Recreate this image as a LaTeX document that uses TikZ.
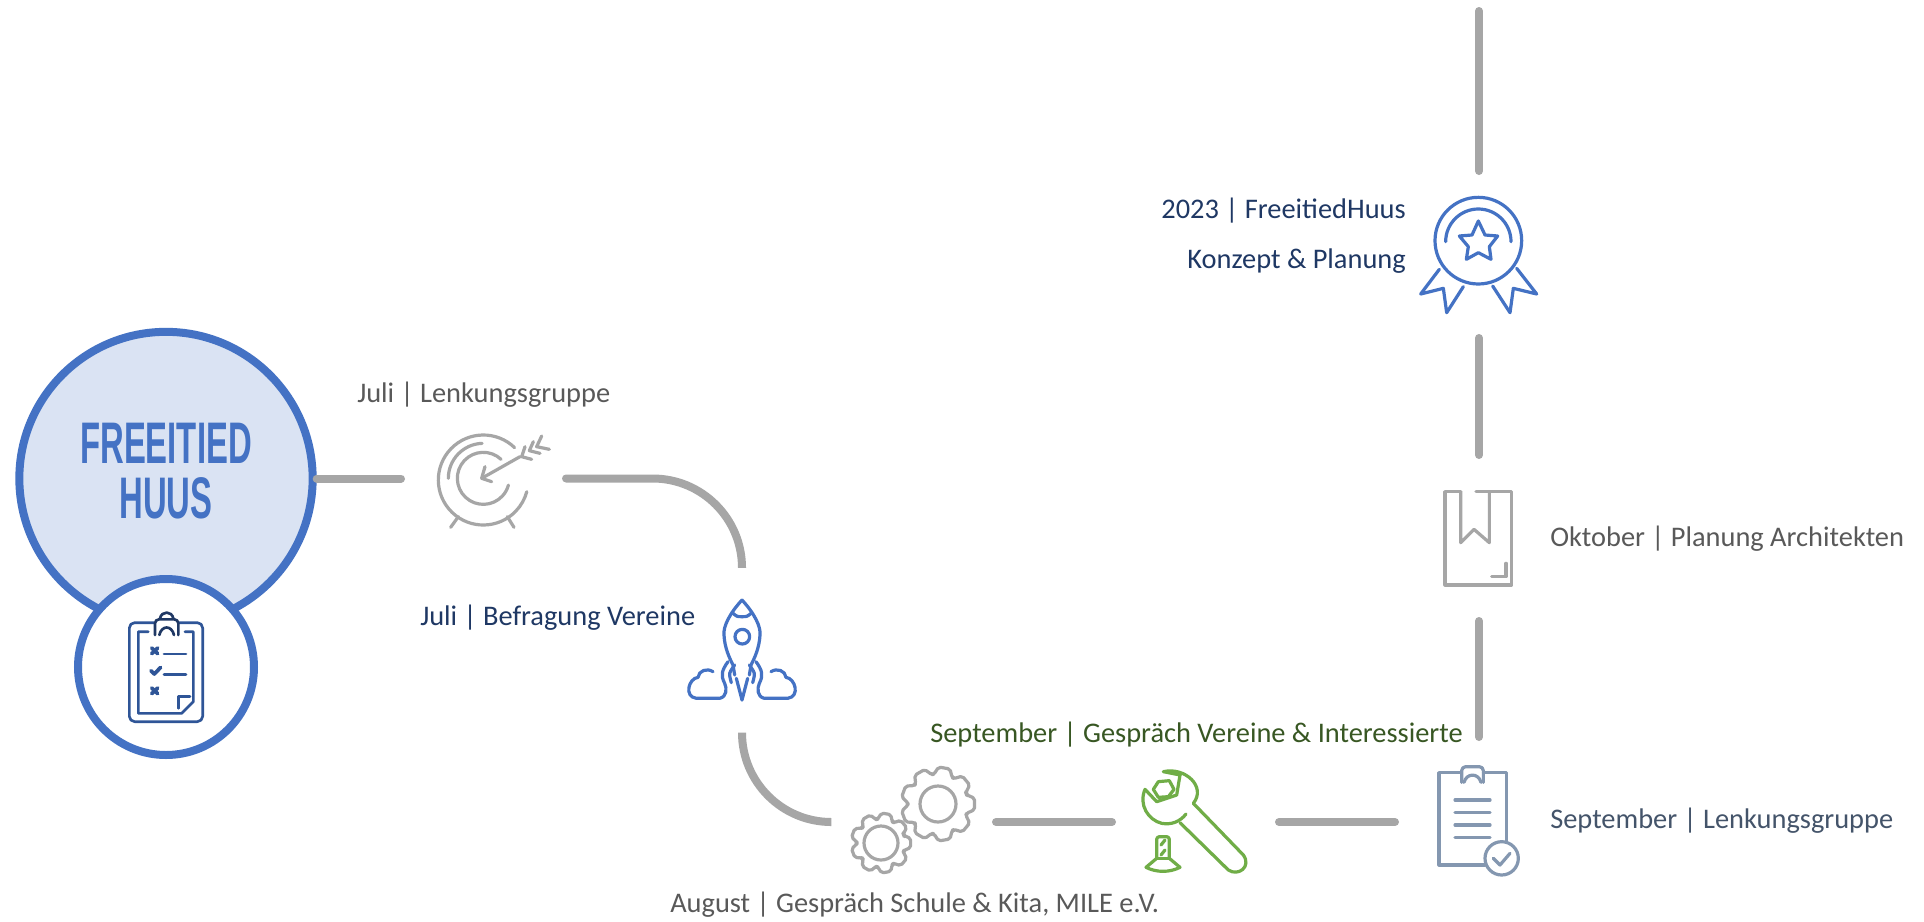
\documentclass[tikz,border=0pt]{standalone}
\usepackage{fontspec}
\setmainfont{Carlito}
\newfontfamily\hubfont[FakeStretch=0.56]{Liberation Sans Bold}
\definecolor{hubblue}{HTML}{4472C4}
\definecolor{hubfill}{HTML}{DAE3F3}
\definecolor{wiregray}{HTML}{A6A6A6}
\definecolor{textgray}{HTML}{595959}
\definecolor{navy}{HTML}{1F3864}
\definecolor{darkgreen}{HTML}{385723}
\definecolor{iconblue}{HTML}{2F5597}
\definecolor{slate}{HTML}{44546A}
\definecolor{slateicon}{HTML}{8497B0}
\definecolor{wrenchgreen}{HTML}{70AD47}
\tikzset{
	wire/.style={draw=wiregray, line width=6pt, line cap=round},
	icon/.style={line width=2.4pt, line cap=round, line join=round},
	caption/.style={anchor=base west, inner sep=0pt, font=\fontsize{21.3}{24}\selectfont},
	captionl/.style={anchor=base east, inner sep=0pt, font=\fontsize{21.3}{24}\selectfont},
}
\newcommand{\gearicon}[5]{
	\begin{scope}[shift={(#1,#2)}]
		\draw [icon, draw=wiregray, rounded corners=1.5pt] (-20:#4)
			\foreach \a in {0,40,...,320} { -- (\a-18:#4) -- (\a-9:#5) -- (\a+9:#5) -- (\a+18:#4) } -- cycle;
		\draw [icon, draw=wiregray] (0,0) circle (#3);
	\end{scope}
}
\begin{document}
\begin{tikzpicture}[x=0.75pt, y=-0.75pt]
	\useasboundingbox [fill=white] (0,0) rectangle (1924,921);
	\coordinate (topS) at (1479,171);
	\coordinate (topN) at (1479,11);
	\coordinate (medalS) at (1479,338);
	\coordinate (bookN) at (1479,455);
	\coordinate (bookS) at (1479,621);
	\coordinate (listN) at (1479,737);
	\coordinate (targetW) at (401,478.5);
	\coordinate (targetE) at (566,478.5);
	\coordinate (rocketN) at (742,567);
	\coordinate (rocketS) at (742,735);
	\coordinate (gearW) at (830,822);
	\coordinate (gearE) at (996,822);
	\coordinate (wrenchW) at (1112,822);
	\coordinate (wrenchE) at (1279,822);
	\coordinate (listW) at (1395,822);
	\node (hub) [circle, draw=hubblue, fill=hubfill, line width=6pt, minimum size=220pt, inner sep=0pt] at (166,478.5) {};
	\node (hublabel) [align=center, text=hubblue, font=\hubfont\fontsize{44}{41.5}\selectfont] at (166,471) {FREEITIED\\HUUS};
	\node (badge) [circle, draw=hubblue, fill=white, line width=6pt, minimum size=132pt, inner sep=0pt] at (166,667) {};
	\draw [wire] (hub.east) -- (targetW);
	\draw [wire, rounded corners=67pt] (targetE) -| (rocketN);
	\draw [wire, rounded corners=67pt] (rocketS) |- (gearW);
	\draw [wire] (gearE) -- (wrenchW);
	\draw [wire] (wrenchE) -- (listW);
	\draw [wire] (listN) -- (bookS);
	\draw [wire] (bookN) -- (medalS);
	\draw [wire] (topS) -- (topN);
	\node (lenkung) [caption, text=textgray] at (357,402) {Juli | Lenkungsgruppe};
	\node (befragung) [caption, text=navy] at (420,625) {Juli | Befragung Vereine};
	\node (gespraech) [caption, text=darkgreen] at (930,742) {September | Gespräch Vereine \& Interessierte};
	\node (august) [caption, text=textgray] at (670,912) {August | Gespräch Schule \& Kita, MILE e.V.};
	\node (septlenk) [caption, text=slate] at (1550,828) {September | Lenkungsgruppe};
	\node (oktober) [caption, text=textgray] at (1550,546) {Oktober | Planung Architekten};
	\node (jahr) [captionl, text=navy] at (1406,218) {2023 | FreeitiedHuus};
	\node (konzept) [captionl, text=navy] at (1406,268) {Konzept \& Planung};
	\begin{scope}[shift={(0,320)}, x=0.25pt, y=-0.25pt, icon, draw=iconblue, line width=2pt]
		\draw [rounded corners=4pt] (462,908) -- (388,908) -- (388,1205) -- (608,1205) -- (608,908) -- (535,908);
		\draw (445,935) -- (415,935) -- (415,1180) -- (545,1180) -- (580,1145) -- (580,935) -- (555,935);
		\draw (535,1165) -- (535,1130) -- (570,1130);
		\draw [draw=navy, rounded corners=3pt] (465,945) -- (465,898) -- (535,898) -- (535,945);
		\draw [draw=navy] (480,895) .. controls (485,872) and (515,872) .. (520,895);
		\draw [draw=navy] (478,945) .. controls (485,915) and (515,915) .. (522,945);
		\draw [line width=2.8pt] (455,984) -- (473,1001) (473,984) -- (455,1001);
		\draw [line width=2.8pt] (455,1104) -- (473,1121) (473,1104) -- (455,1121);
		\draw [line width=2.8pt] (453,1052) -- (463,1062) -- (482,1042);
		\draw (492,1002) -- (558,1002);
		\draw (492,1063) -- (558,1063);
	\end{scope}
	\begin{scope}[shift={(430,420)}, x=0.25pt, y=-0.25pt, icon, draw=wiregray]
		\draw (160,180) ++(-46:135) arc (-46:-345:135);
		\draw (55,175) arc (-180:-92:105);
		\draw (160,175) ++(-47:78) arc (-47:-345:78);
		\draw (85,290) -- (62,322);
		\draw (232,290) -- (252,322);
		\draw (155,175) -- (270,110);
		\draw (165,140) -- (155,175) -- (185,185);
		\draw (285,80) -- (275,110) -- (305,118);
		\draw (310,65) -- (298,92) -- (330,100);
		\draw (335,48) -- (320,80) -- (358,88);
	\end{scope}
	\begin{scope}[shift={(680,590)}, x=0.25pt, y=-0.25pt, icon, draw=hubblue]
		\draw (187,140) circle (22);
	\end{scope}
	\foreach \s in {1,-1} {
		\begin{scope}[shift={(742,600)}, x=\s*0.25pt, y=-0.25pt, icon, draw=hubblue]
			\draw (0,0) .. controls (-37,40) and (-57,80) .. (-54,105) .. controls (-52,145) and (-37,175) .. (-27,195) -- (-22,225);
			\draw (-27,40) .. controls (-15,50) .. (0,50);
			\draw (-87,215) .. controls (-105,203) and (-130,212) .. (-132,232) .. controls (-160,235) and (-175,290) .. (-137,295) -- (-67,295) .. controls (-45,290) and (-45,265) .. (-52,250) .. controls (-65,225) and (-60,210) .. (-42,185);
			\draw plot [smooth] coordinates {(-22,195) (-37,220) (-32,248)};
			\draw (-17,235) -- (0,300);
		\end{scope}
	}
	\gearicon{938}{804}{18}{30}{37}
	\gearicon{881}{843}{17}{24}{30}
	\begin{scope}[shift={(1130,760)}, x=0.25pt, y=-0.25pt, icon, draw=wrenchgreen]
		\draw (150,45) -- (100,35) .. controls (165,20) and (230,80) .. (190,130) -- (340,285) .. controls (365,320) and (325,350) .. (295,330) -- (150,188);
		\draw (168,162) .. controls (150,185) and (125,195) .. (95,190) .. controls (55,180) and (25,135) .. (45,88) -- (80,125) -- (140,105) -- (150,45);
		\draw (85,65) -- (118,62) -- (132,88) -- (115,110) -- (85,112) -- (70,88) -- cycle;
		\draw [rounded corners=2pt] (80,295) -- (80,230) -- (118,230) -- (118,295);
		\draw (93,255) -- (105,240) (93,285) -- (105,270);
		\draw (80,295) -- (48,322) .. controls (80,338) and (118,338) .. (150,322) -- (118,295);
		\draw (80,295) -- (118,295);
	\end{scope}
	\begin{scope}[shift={(1400,750)}, x=0.25pt, y=-0.25pt, icon, draw=slateicon]
		\draw (183,68) -- (117,68) -- (117,345) -- (255,345);
		\draw (250,68) -- (320,68) -- (320,275);
		\draw [rounded corners=3pt] (185,97) -- (185,50) -- (250,50) -- (250,97);
		\draw (192,97) .. controls (200,68) and (235,68) .. (243,97);
		\draw (165,150) -- (270,150);
		\draw (165,187) -- (270,187);
		\draw (165,225) -- (270,225);
		\draw (165,262) -- (270,262);
		\draw (305,325) circle (50);
		\draw (280,325) -- (300,345) -- (330,310);
	\end{scope}
	\begin{scope}[shift={(1400,470)}, x=0.25pt, y=-0.25pt, icon, draw=wiregray]
		\draw (182,65) -- (135,65) -- (135,345) -- (335,345) -- (335,65) -- (228,65);
		\draw (182,65) -- (182,218) -- (222,178) -- (268,218) -- (268,65);
		\draw (275,320) -- (318,320) -- (318,280);
	\end{scope}
	\begin{scope}[shift={(1400,180)}, x=0.25pt, y=-0.25pt, icon, draw=hubblue]
		\draw (235,182) circle (130);
		\draw (137,185) arc (-180:0:98);
		\draw (235,123) -- (255,165) -- (293,168) -- (268,200) -- (273,238) -- (235,218) -- (199,238) -- (205,200) -- (178,168) -- (216,165) -- cycle;
		\draw (118,268) -- (62,342) -- (130,325) -- (140,398) -- (190,320);
		\draw (350,265) -- (410,342) -- (340,325) -- (330,398) -- (278,318);
	\end{scope}
\end{tikzpicture}
\end{document}
